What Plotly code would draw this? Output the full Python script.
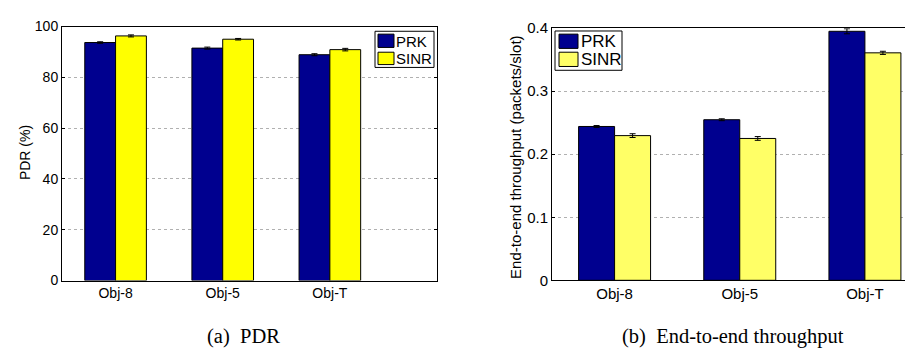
import plotly.graph_objects as go

categories = ["Obj-8", "Obj-5", "Obj-T"]
series_names = ["PRK", "SINR"]

pdr_prk = [93.7, 91.5, 88.9]
pdr_sinr = [96.3, 95.0, 90.9]
pdr_prk_err = [0.3, 0.4, 0.4]
pdr_sinr_err = [0.4, 0.3, 0.5]

thr_prk = [0.244, 0.2547, 0.395]
thr_sinr = [0.2295, 0.225, 0.3608]
thr_prk_err = [0.0015, 0.0015, 0.004]
thr_sinr_err = [0.003, 0.003, 0.0025]

pdr_ticks = [0, 20, 40, 60, 80, 100]
thr_ticks = [0, 0.1, 0.2, 0.3, 0.4]

PRK_COLOR = "#00008F"
SINR_LEFT = "#FFFF00"
SINR_RIGHT = "#FFFF66"

W, H = 913, 351

def px_x(x):
    return x / W

def px_y(y):
    return 1 - y / H

fig = go.Figure()

def add_bars(xaxis, yaxis, vals, errs, color, name):
    fig.add_trace(go.Bar(
        x=categories, y=vals, name=name, xaxis=xaxis, yaxis=yaxis,
        marker=dict(color=color, line=dict(color="black", width=1)),
        error_y=dict(type="data", array=errs, color="black", thickness=1, width=3),
        showlegend=False,
    ))

add_bars("x", "y", pdr_prk, pdr_prk_err, PRK_COLOR, series_names[0])
add_bars("x", "y", pdr_sinr, pdr_sinr_err, SINR_LEFT, series_names[1])
add_bars("x2", "y2", thr_prk, thr_prk_err, PRK_COLOR, series_names[0])
add_bars("x2", "y2", thr_sinr, thr_sinr_err, SINR_RIGHT, series_names[1])

tick_font = dict(family="Liberation Sans, Arial, sans-serif", size=14, color="black")
tick_font2 = dict(family="Liberation Sans, Arial, sans-serif", size=15, color="black")
grid = dict(showgrid=True, gridcolor="#b0b0b0", griddash="dot", gridwidth=1)

fig.update_layout(
    width=W, height=H,
    margin=dict(l=0, r=0, t=0, b=0),
    paper_bgcolor="white", plot_bgcolor="white",
    barmode="group", bargap=0.425, bargroupgap=0,
    font=tick_font,
    xaxis=dict(domain=[px_x(54), px_x(429)], range=[-0.5, 3.0], type="category",
               showline=True, mirror=True, linecolor="black", linewidth=1,
               ticks="", showgrid=False, tickfont=tick_font, anchor="y"),
    yaxis=dict(domain=[px_y(277), px_y(10)], range=[0, 100], tickvals=pdr_ticks,
               showline=True, mirror="ticks", linecolor="black", linewidth=1,
               ticks="inside", ticklen=3, tickcolor="black", tickfont=tick_font,
               zeroline=False, anchor="x", **grid),
    xaxis2=dict(domain=[px_x(544), 1.0], range=[-0.5, 2.448], type="category",
                showline=True, mirror=True, linecolor="black", linewidth=1,
                ticks="", showgrid=False, tickfont=tick_font2, anchor="y2"),
    yaxis2=dict(domain=[px_y(276.7), px_y(11.7)], range=[0, 0.4], tickvals=thr_ticks,
                ticktext=[str(t) if t != 0 else "0" for t in thr_ticks],
                showline=True, mirror=False, linecolor="black", linewidth=1,
                ticks="inside", ticklen=3, tickcolor="black", tickfont=tick_font2,
                zeroline=False, anchor="x2", **grid),
)

shapes = []
annotations = []

# Custom legends (boxes + swatches + labels)
def legend(box, sw1, sw2, tx, ty1, ty2, size, sinr_color):
    shapes.append(dict(type="rect", xref="paper", yref="paper",
                       x0=px_x(box[0]), x1=px_x(box[1]), y0=px_y(box[3]), y1=px_y(box[2]),
                       line=dict(color="black", width=1), fillcolor="white", layer="above"))
    for (sw, col) in ((sw1, PRK_COLOR), (sw2, sinr_color)):
        shapes.append(dict(type="rect", xref="paper", yref="paper",
                           x0=px_x(sw[0]), x1=px_x(sw[1]), y0=px_y(sw[3]), y1=px_y(sw[2]),
                           line=dict(color="black", width=1), fillcolor=col, layer="above"))
    for (label, ty) in ((series_names[0], ty1), (series_names[1], ty2)):
        annotations.append(dict(xref="paper", yref="paper", x=px_x(tx), y=px_y(ty),
                                text=label, showarrow=False, xanchor="left", yanchor="middle",
                                font=dict(family="Liberation Sans, Arial, sans-serif", size=size, color="black")))

legend((367, 426, 15, 53), (370, 386, 18, 32), (370, 386, 37, 50), 386, 25.5, 43.5, 15, SINR_LEFT)
legend((547, 614, 14.7, 56), (551, 570, 18, 33), (551, 570, 37, 52), 571, 26, 45, 17, SINR_RIGHT)

# Axis titles
annotations.append(dict(xref="paper", yref="paper", x=px_x(17), y=px_y(143), text="PDR (%)",
                        textangle=-90, showarrow=False, xanchor="center", yanchor="middle",
                        font=dict(family="Liberation Sans, Arial, sans-serif", size=14, color="black")))
annotations.append(dict(xref="paper", yref="paper", x=px_x(508), y=px_y(147),
                        text="End-to-end throughput (packets/slot)",
                        textangle=-90, showarrow=False, xanchor="center", yanchor="middle",
                        font=dict(family="Liberation Sans, Arial, sans-serif", size=15, color="black")))

# Captions
cap_font = dict(family="Liberation Serif, Times New Roman, serif", size=20.5, color="black")
annotations.append(dict(xref="paper", yref="paper", x=px_x(235), y=px_y(336), text="(a)  PDR",
                        showarrow=False, xanchor="center", yanchor="middle", font=cap_font))
annotations.append(dict(xref="paper", yref="paper", x=px_x(725), y=px_y(336),
                        text="(b)  End-to-end throughput",
                        showarrow=False, xanchor="center", yanchor="middle", font=cap_font))

fig.update_layout(shapes=shapes, annotations=annotations)

fig.write_html("out.html")
